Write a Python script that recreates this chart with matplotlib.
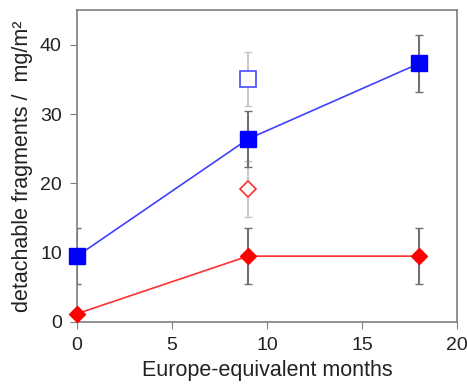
import matplotlib.pyplot as plt

plt.rcParams['font.family'] = ['Liberation Sans', 'DejaVu Sans']

# Europe-equivalent months
months = [0, 9, 18]
blue_vals = [9.5, 26.4, 37.3]
blue_err = [4.0, 4.1, 4.1]
red_vals = [1.2, 9.5, 9.5]
red_err = [0.0, 4.0, 4.0]
# open markers at 9 months
open_x = [9]
blue_open = [35.0]
blue_open_err = [3.9]
red_open = [19.2]
red_open_err = [4.0]

fig = plt.figure(figsize=(4.67, 3.87), dpi=100)
ax = fig.add_axes([0.165, 0.168, 0.814, 0.806])

# open points with light error bars
ax.errorbar(open_x, blue_open, yerr=blue_open_err, fmt='none', ecolor='#c8c8c8',
            elinewidth=1.5, capsize=3, zorder=1)
ax.errorbar(open_x, red_open, yerr=red_open_err, fmt='none', ecolor='#c8c8c8',
            elinewidth=1.5, capsize=3, zorder=1)
ax.plot(open_x, blue_open, 's', ms=11, mfc='white', mec='#4a4aff', mew=1.2, zorder=3)
ax.plot(open_x, red_open, 'D', ms=8, mfc='white', mec='#ff3030', mew=1.2, zorder=3)

# filled series
ax.errorbar(months, blue_vals, yerr=blue_err, fmt='none', ecolor='#707070',
            elinewidth=1.5, capsize=3, zorder=2)
ax.errorbar(months, red_vals, yerr=red_err, fmt='none', ecolor='#707070',
            elinewidth=1.5, capsize=3, zorder=2)
ax.plot(months, blue_vals, '-', color='#4040ff', lw=1.2, zorder=3)
ax.plot(months, blue_vals, 's', ms=11, color='#0000ff', zorder=4, clip_on=False)
ax.plot(months, red_vals, '-', color='#ff3030', lw=1.2, zorder=3)
ax.plot(months, red_vals, 'D', ms=8.5, color='#ff0000', zorder=4, clip_on=False)

ax.set_xlim(0, 20)
ax.set_ylim(0, 45)
ax.set_xticks([0, 5, 10, 15, 20])
ax.set_yticks([0, 10, 20, 30, 40])
for s in ax.spines.values():
    s.set_color('#7f7f7f')
    s.set_linewidth(1.2)
ax.tick_params(direction='out', length=5, color='#7f7f7f', labelsize=14,
               labelcolor='#222222', pad=6)
ax.set_xlabel('Europe-equivalent months', fontsize=15.5, color='#222222', labelpad=4)
ax.set_ylabel('detachable fragments /  mg/m²', fontsize=15.5, color='#222222', labelpad=5)

fig.savefig('out.png', dpi=100)
